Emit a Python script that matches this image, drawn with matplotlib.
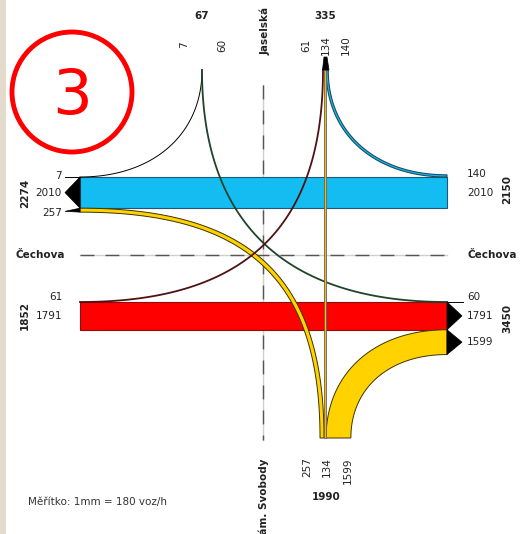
#!/usr/bin/env python3
"""Traffic flow cartogram of the Čechova / Jaselská / nám. Svobody junction."""
import matplotlib
matplotlib.use("Agg")
import matplotlib.pyplot as plt
import numpy as np
from matplotlib.patches import Circle, Polygon, Rectangle

# flows in veh/h
FLOW_BLUE = 2010      # Čechova west <-> east
FLOW_RED = 1791       # Čechova east <-> west
FLOW_YEL_R = 1599     # east -> nám. Svobody
FLOW_YEL_L = 257      # west -> nám. Svobody
FLOW_THROUGH = 134    # Jaselská -> nám. Svobody
FLOW_BLUE_TURN = 140  # Jaselská (right) -> east
FLOW_RED_TURN = 61    # Jaselská (right) -> west
FLOW_GREEN = 60       # Jaselská (left) -> east
FLOW_BLACK = 7        # Jaselská (left) -> west

TOP_LEFT = [FLOW_BLACK, FLOW_GREEN]
TOP_RIGHT = [FLOW_RED_TURN, FLOW_THROUGH, FLOW_BLUE_TURN]
LEFT_UPPER = [FLOW_BLACK, FLOW_BLUE, FLOW_YEL_L]
LEFT_LOWER = [FLOW_RED_TURN, FLOW_RED]
RIGHT_UPPER = [FLOW_BLUE_TURN, FLOW_BLUE]
RIGHT_LOWER = [FLOW_GREEN, FLOW_RED, FLOW_YEL_R]
BOTTOM = [FLOW_YEL_L, FLOW_THROUGH, FLOW_YEL_R]

SCALE = 0.0155  # px per veh/h

BLUE = "#13bdf2"
RED = "#ff0000"
YELLOW = "#ffd200"
TXT = "#222222"


def bez(p0, p3, corner, k=0.6, n=100):
    p0, p3, c = np.asarray(p0, float), np.asarray(p3, float), np.asarray(corner, float)
    p1 = p0 + k * (c - p0)
    p2 = p3 + k * (c - p3)
    t = np.linspace(0, 1, n)[:, None]
    return (1 - t) ** 3 * p0 + 3 * (1 - t) ** 2 * t * p1 + 3 * (1 - t) * t ** 2 * p2 + t ** 3 * p3


def band(ax, e1, e2, fc, ec, lw=0.7, z=3):
    pts = np.vstack([e1, e2[::-1]])
    ax.add_patch(Polygon(pts, closed=True, facecolor=fc, edgecolor=ec, lw=lw, zorder=z))


fig = plt.figure(figsize=(5.2, 5.34), dpi=100)
ax = fig.add_axes([0, 0, 1, 1])
ax.set_xlim(0, 520)
ax.set_ylim(534, 0)
ax.axis("off")

# map strip on the left edge
ax.add_patch(Rectangle((0, 0), 6, 534, facecolor="#e3dccd", edgecolor="none", zorder=0))

L, R = 80, 447
TOP_Y, BOT_Y = 70, 438
XL, XR = 202, 323
blue_top = 177
red_top = 302
wb = FLOW_BLUE * SCALE
wr = FLOW_RED * SCALE
wyr = FLOW_YEL_R * SCALE
wyl = FLOW_YEL_L * SCALE
wt = FLOW_THROUGH * SCALE
wbt = FLOW_BLUE_TURN * SCALE

# axes of the junction
ax.plot([263, 263], [85, 440], color="#d0d0d0", lw=1, zorder=1)
ax.plot([263, 263], [85, 440], color="#555555", lw=1, dashes=(10, 8), zorder=1)
ax.plot([L, R], [255, 255], color="#d0d0d0", lw=1, zorder=1)
ax.plot([L, R], [255, 255], color="#555555", lw=1, dashes=(10, 8), zorder=1)

# main bars
ax.add_patch(Rectangle((L, blue_top), R - L, wb, facecolor=BLUE, edgecolor="#1f5870", lw=0.8, zorder=2))
ax.add_patch(Rectangle((L, red_top), R - L, wr, facecolor=RED, edgecolor="#8a1010", lw=0.8, zorder=2))

# 7: top-left stub -> west
c = bez((XL, TOP_Y), (L, blue_top), (XL, blue_top), k=0.6)
ax.plot(c[:, 0], c[:, 1], color="black", lw=0.7, zorder=4)
ax.plot([65, L], [blue_top, blue_top], color="black", lw=0.7, zorder=4)

# 60: top-left stub -> east
c = bez((XL, TOP_Y), (R, red_top), (XL, red_top), k=0.66)
ax.plot(c[:, 0], c[:, 1], color="#1f4428", lw=1.3, zorder=4)
ax.plot([R, 463], [red_top, red_top], color="black", lw=0.7, zorder=4)

# 61: top-right stub -> west
c = bez((XR, TOP_Y), (L, red_top), (XR, red_top), k=0.68)
ax.plot(c[:, 0], c[:, 1], color="#4f1212", lw=1.3, zorder=4)

# 140: top-right stub -> east
x0 = XR + 1 + wt
e1 = bez((x0, TOP_Y), (R, blue_top), (x0, blue_top), k=0.6)
e2 = bez((x0 + wbt, TOP_Y), (R, blue_top - wbt), (x0 + wbt, blue_top - wbt), k=0.6)
band(ax, e1, e2, BLUE, "#1b4d62", lw=0.8)

# 134: straight through
band(ax, np.array([[XR + 1, TOP_Y], [XR + 1, BOT_Y]]),
     np.array([[XR + 1 + wt, TOP_Y], [XR + 1 + wt, BOT_Y]]), "#f2b81c", "#6a6050", lw=0.6, z=5)

# 257: west -> bottom
bx = XR + 1
e1 = bez((L, blue_top + wb), (bx, BOT_Y), (bx, blue_top + wb), k=0.7)
e2 = bez((L, blue_top + wb + wyl), (bx - wyl, BOT_Y), (bx - wyl, blue_top + wb + wyl), k=0.7)
band(ax, e1, e2, YELLOW, "#3d3300", lw=0.7, z=3)

# 1599: east -> bottom
bx = XR + 1 + wt
e1 = bez((R, red_top + wr), (bx, BOT_Y), (bx, red_top + wr), k=0.6)
e2 = bez((R, red_top + wr + wyr), (bx + wyr, BOT_Y), (bx + wyr, red_top + wr + wyr), k=0.6)
band(ax, e1, e2, YELLOW, "#3d3300", lw=0.7, z=3)

# arrowheads
tri = dict(facecolor="black", edgecolor="black", lw=0.5, zorder=6)
ax.add_patch(Polygon([[L, blue_top], [65, blue_top + wb / 2], [L, blue_top + wb]], **tri))
ax.add_patch(Polygon([[L, blue_top + wb], [65, blue_top + wb + wyl * 0.8], [L, blue_top + wb + wyl]], **tri))
ax.add_patch(Polygon([[R, red_top], [462, red_top + wr / 2], [R, red_top + wr]], **tri))
ax.add_patch(Polygon([[R, red_top + wr], [462, red_top + wr + wyr / 2], [R, red_top + wr + wyr]], **tri))
ax.add_patch(Polygon([[XR - 0.5, TOP_Y], [XR + 1, 57], [XR + 4, 57], [XR + 6, TOP_Y]], **tri))

fs = 7.5
num = dict(color=TXT, fontsize=fs, family="DejaVu Sans")
bold = dict(color=TXT, fontsize=fs, family="DejaVu Sans", fontweight="bold")

# top labels
ax.text(XL, 16, str(sum(TOP_LEFT)), ha="center", va="center", **bold)
for x, v in zip([184, 222], TOP_LEFT):
    ax.text(x, 45, str(v), rotation=90, ha="center", va="center", **num)
ax.text(XR + 2, 16, str(sum(TOP_RIGHT)), ha="center", va="center", **bold)
for x, v in zip([306, 326, 346], TOP_RIGHT):
    ax.text(x, 45, str(v), rotation=90, ha="center", va="center", **num)
ax.text(265, 55, "Jaselská", rotation=90, ha="center", va="bottom", **bold)

# left labels
for y, v in zip([176, 193, 213], LEFT_UPPER):
    ax.text(62, y, str(v), ha="right", va="center", **num)
ax.text(25, 193, str(sum(LEFT_UPPER)), rotation=90, ha="center", va="center", **bold)
for y, v in zip([297, 316], LEFT_LOWER):
    ax.text(62, y, str(v), ha="right", va="center", **num)
ax.text(25, 316, str(sum(LEFT_LOWER)), rotation=90, ha="center", va="center", **bold)
ax.text(15, 255, "Čechova", ha="left", va="center", **bold)

# right labels
for y, v in zip([174, 193], RIGHT_UPPER):
    ax.text(467, y, str(v), ha="left", va="center", **num)
ax.text(507, 190, str(sum(RIGHT_UPPER)), rotation=90, ha="center", va="center", **bold)
for y, v in zip([297, 316, 342], RIGHT_LOWER):
    ax.text(467, y, str(v), ha="left", va="center", **num)
ax.text(507, 318, str(sum(RIGHT_LOWER)), rotation=90, ha="center", va="center", **bold)
ax.text(467, 255, "Čechova", ha="left", va="center", **bold)

# bottom labels
for x, v in zip([307, 327, 348], BOTTOM):
    ax.text(x, 457, str(v), rotation=90, ha="center", va="top", **num)
ax.text(326, 497, str(sum(BOTTOM)), ha="center", va="center", **bold)
ax.text(264, 458, "nám. Svobody", rotation=90, ha="center", va="top", **bold)

ax.text(28, 502, "Měřítko: 1mm = 180 voz/h", ha="left", va="center",
        color="#333333", fontsize=7.5, family="DejaVu Sans")

# junction number
ax.add_patch(Circle((72, 92), 60, facecolor="none", edgecolor="#ff0000", lw=3.5, zorder=7))
ax.text(72, 97, "3", ha="center", va="center", color="#ff0000", fontsize=45, zorder=7)

fig.savefig("out.png", dpi=100)
